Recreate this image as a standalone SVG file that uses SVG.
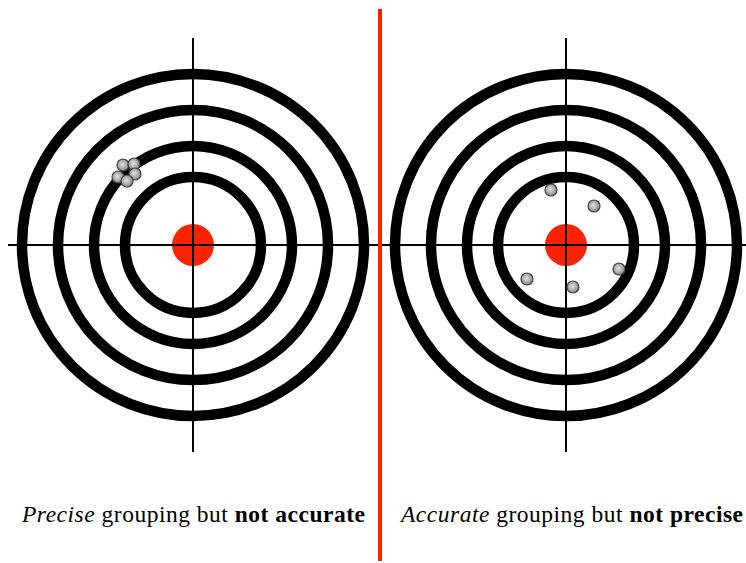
<svg xmlns="http://www.w3.org/2000/svg" width="746" height="563" viewBox="0 0 746 563">
<style>
.ring{fill:none;stroke:#000;stroke-width:10.5}
.axis{stroke:#000;stroke-width:2}
.bull{fill:#ff2200}
.shot{fill:url(#shotGrad);stroke:#444;stroke-width:1.2}
.cap{font-family:'Liberation Serif','Times New Roman','DejaVu Serif',Times,serif;font-size:23.5px;fill:#000}
</style>
<defs>
<radialGradient id="shotGrad" cx="0.45" cy="0.45" r="0.6">
<stop offset="0" stop-color="#e0e0e0"/>
<stop offset="0.6" stop-color="#a8a8a8"/>
<stop offset="1" stop-color="#707070"/>
</radialGradient>
</defs>
<rect width="746" height="563" fill="#fff"/>
<g id="target-left">
<circle class="ring" cx="193" cy="245" r="171"/>
<circle class="ring" cx="193" cy="245" r="135"/>
<circle class="ring" cx="193" cy="245" r="99"/>
<circle class="ring" cx="193" cy="245" r="68"/>
<circle class="bull" cx="193" cy="245" r="21"/>
<line class="axis" x1="8" y1="245" x2="378" y2="245"/>
<line class="axis" x1="193" y1="38" x2="193" y2="452"/>
<g id="shots-left">
<circle class="shot" cx="123" cy="165" r="6"/>
<circle class="shot" cx="134" cy="164" r="6"/>
<circle class="shot" cx="118" cy="177" r="6"/>
<circle class="shot" cx="135" cy="174" r="6"/>
<circle class="shot" cx="127" cy="181" r="6"/>
</g>
</g>
<g id="target-right">
<circle class="ring" cx="566" cy="245" r="171"/>
<circle class="ring" cx="566" cy="245" r="135"/>
<circle class="ring" cx="566" cy="245" r="99"/>
<circle class="ring" cx="566" cy="245" r="68"/>
<circle class="bull" cx="566" cy="245" r="21"/>
<line class="axis" x1="378" y1="245" x2="746" y2="245"/>
<line class="axis" x1="566" y1="38" x2="566" y2="452"/>
<g id="shots-right">
<circle class="shot" cx="551" cy="190" r="6"/>
<circle class="shot" cx="594" cy="206" r="6"/>
<circle class="shot" cx="619" cy="269" r="6"/>
<circle class="shot" cx="527" cy="279" r="6"/>
<circle class="shot" cx="573" cy="287" r="6"/>
</g>
</g>
<g id="divider">
<line x1="380" y1="9" x2="380" y2="561" stroke="#ff2200" stroke-width="4"/>
</g>
<g id="labels">
<text class="cap" x="22" y="522" textLength="343" lengthAdjust="spacing"><tspan font-style="italic">Precise</tspan> grouping but <tspan font-weight="bold">not accurate</tspan></text>
<text class="cap" x="401" y="522" textLength="342" lengthAdjust="spacing"><tspan font-style="italic">Accurate</tspan> grouping but <tspan font-weight="bold">not precise</tspan></text>
</g>
</svg>
